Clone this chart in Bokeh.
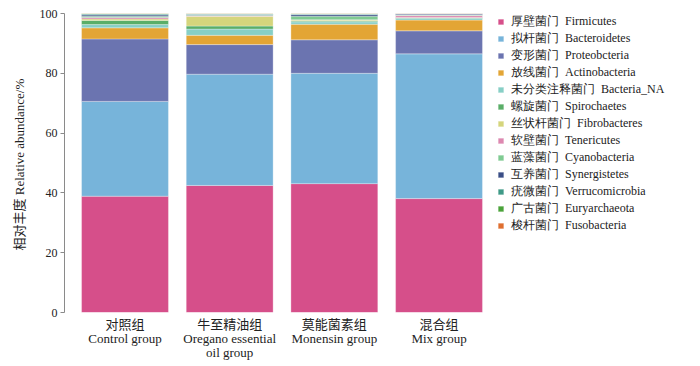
from bokeh.plotting import figure
from bokeh.models import ColumnDataSource, Legend, LegendItem, FixedTicker, Range1d
from bokeh.embed import file_html
from bokeh.resources import INLINE

groups = ["对照组\nControl group", "牛至精油组\nOregano essential\noil group",
          "莫能菌素组\nMonensin group", "混合组\nMix group"]

phyla = ["厚壁菌门  Firmicutes", "拟杆菌门  Bacteroidetes", "变形菌门  Proteobcteria",
         "放线菌门  Actinobacteria", "未分类注释菌门  Bacteria_NA", "螺旋菌门  Spirochaetes",
         "丝状杆菌门  Fibrobacteres", "软壁菌门  Tenericutes", "蓝藻菌门  Cyanobacteria",
         "互养菌门  Synergistetes", "疣微菌门  Verrucomicrobia", "广古菌门  Euryarchaeota",
         "梭杆菌门  Fusobacteria"]

colors = ["#d64f8a", "#77b4da", "#6b74b0", "#e3a535", "#87cfc6", "#5aae68", "#d5d57c",
          "#dd88b0", "#7fcb92", "#3a4e86", "#3f9a87", "#4aa33a", "#df6f30"]

# values (%) per group: Control, Oregano, Monensin, Mix
firmicutes      = [38.9, 42.5, 43.1, 38.1]
bacteroidetes   = [31.7, 37.2, 36.9, 48.4]
proteobacteria  = [20.9, 9.9, 11.2, 7.7]
actinobacteria  = [3.7, 3.1, 5.2, 3.6]
bacteria_na     = [1.1, 2.1, 0.8, 0.6]
spirochaetes    = [1.4, 1.0, 0.3, 0.2]
fibrobacteres   = [0.5, 3.3, 0.3, 0.1]
tenericutes     = [0.5, 0.1, 0.1, 0.6]
cyanobacteria   = [0.4, 0.2, 1.2, 0.2]
synergistetes   = [0.4, 0.2, 0.5, 0.3]
verrucomicrobia = [0.3, 0.2, 0.2, 0.1]
euryarchaeota   = [0.1, 0.1, 0.1, 0.05]
fusobacteria    = [0.1, 0.1, 0.1, 0.05]

series = [firmicutes, bacteroidetes, proteobacteria, actinobacteria, bacteria_na,
          spirochaetes, fibrobacteres, tenericutes, cyanobacteria, synergistetes,
          verrucomicrobia, euryarchaeota, fusobacteria]

xs = list(range(len(groups)))

SERIF = "Liberation Serif, Times New Roman, Noto Sans CJK SC"
LEGEND_FONT = "Liberation Serif"

p = figure(width=700, height=366, output_backend="svg", toolbar_location=None,
           x_range=Range1d(-0.578, 5.498), y_range=Range1d(0, 100),
           min_border_left=64, min_border_top=13, min_border_bottom=54, min_border_right=0)
p.outline_line_color = None
p.xgrid.grid_line_color = None
p.ygrid.grid_line_color = None
p.background_fill_color = "white"

bottom = [0.0] * len(groups)
items = []
for name, vals, col in zip(phyla, series, colors):
    top = [b + v for b, v in zip(bottom, vals)]
    src = ColumnDataSource(dict(x=xs, bottom=bottom, top=top))
    r = p.vbar(x="x", bottom="bottom", top="top", width=0.83, source=src,
               fill_color=col, line_color="white", line_alpha=0.5, line_width=0.6)
    items.append(LegendItem(label=name, renderers=[r]))
    bottom = top

legend = Legend(items=items, location=(433, 78), padding=0, margin=0, spacing=0,
                glyph_width=7, glyph_height=7, label_height=15, label_standoff=7,
                label_text_font=LEGEND_FONT, label_text_font_size="12px",
                label_text_color="#222222", border_line_color=None,
                background_fill_alpha=0)
p.add_layout(legend, "center")

# y axis
yax = p.yaxis[0]
yax.ticker = FixedTicker(ticks=[0, 20, 40, 60, 80, 100])
yax.minor_tick_line_color = None
yax.axis_line_color = "#8a8a8a"
yax.major_tick_line_color = "#8a8a8a"
yax.major_tick_out = 4
yax.major_tick_in = 0
yax.major_label_standoff = 3
yax.major_label_text_font = SERIF
yax.major_label_text_font_size = "12px"
yax.major_label_text_color = "#222222"
yax.axis_label = "相对丰度  Relative abundance/%"
yax.axis_label_text_font = SERIF
yax.axis_label_text_font_size = "13px"
yax.axis_label_text_font_style = "normal"
yax.axis_label_text_color = "#222222"
yax.axis_label_standoff = 10

# x axis
xax = p.xaxis[0]
xax.ticker = FixedTicker(ticks=xs)
xax.major_label_overrides = {i: g for i, g in zip(xs, groups)}
xax.axis_line_color = None
xax.major_tick_line_color = None
xax.minor_tick_line_color = None
xax.major_tick_out = 0
xax.major_tick_in = 0
xax.major_label_text_font = SERIF
xax.major_label_text_font_size = "13px"
xax.major_label_text_line_height = 0.95
xax.major_label_text_color = "#222222"
xax.major_label_standoff = 4

open("out.html", "w").write(file_html(p, INLINE))
